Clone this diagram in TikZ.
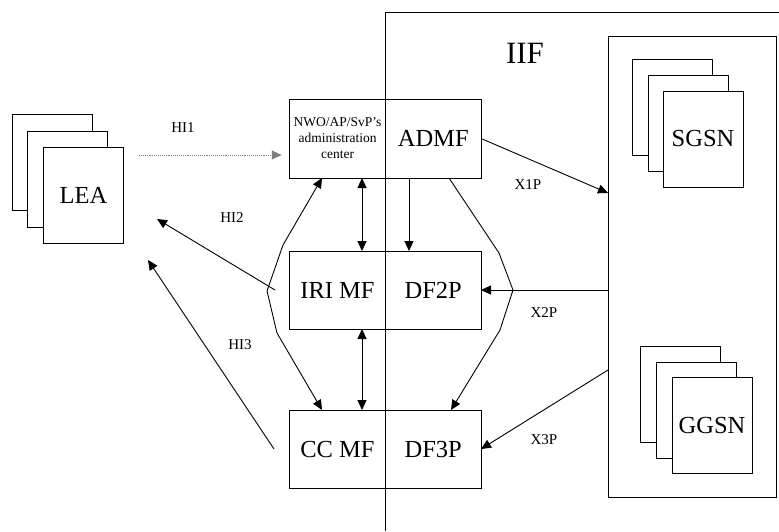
\documentclass[tikz,border=0pt]{standalone}
\usepackage{fontspec}
\setmainfont{Liberation Serif}
\usetikzlibrary{arrows.meta}
\begin{document}
\begin{tikzpicture}[x=1pt,y=-1pt,line width=0.9pt,
  half/.style={draw, inner sep=0pt, outer sep=0pt, minimum width=95.5pt, minimum height=78pt, font=\fontsize{24.5}{26}\selectfont},
  card/.style={draw, fill=white, inner sep=0pt, outer sep=0pt, minimum width=80pt, minimum height=96pt, font=\fontsize{24.5}{26}\selectfont},
  lbl/.style={font=\fontsize{15}{17}\selectfont},
  arr/.style={-{Triangle[length=10pt,width=9pt]}},
  darr/.style={{Triangle[length=10pt,width=9pt]}-{Triangle[length=10pt,width=9pt]}}]
\useasboundingbox (0,0) rectangle (779,531);
% IIF
\draw (385,531) -- (385,12) -- (779,12);
\node[font=\fontsize{31}{33}\selectfont] (iif) at (525,53) {IIF};
% LEA stack
\node[card] (lea3) at (52,162.5) {};
\node[card] (lea2) at (67.5,179) {};
\node[card] (lea) at (83.5,195) {LEA};
% network nodes box
\node[draw, inner sep=0pt, outer sep=0pt, minimum width=168pt, minimum height=461pt] (nodes) at (692,266.5) {};
\node[card] (sgsn3) at (672,107) {};
\node[card] (sgsn2) at (688,123) {};
\node[card] (sgsn) at (703,139) {SGSN};
\node[card] (ggsn3) at (680,394) {};
\node[card] (ggsn2) at (696,410) {};
\node[card] (ggsn) at (712,425.5) {GGSN};
% function boxes
\node[half, minimum height=79pt, align=center, font=\fontsize{13.5}{16}\selectfont] (nwo) at (337.5,138.5) {NWO/AP/SvP’s\\administration\\center};
\node[half, minimum height=79pt] (admf) at (433.25,138.5) {ADMF};
\node[half] (iri) at (337.5,290) {IRI MF};
\node[half] (df2p) at (433.25,290) {DF2P};
\node[half] (ccmf) at (337.5,449) {CC MF};
\node[half] (df3p) at (433.25,449) {DF3P};
% HI interfaces
\coordinate (hi1s) at (139,155);
\draw[arr, densely dotted, gray, shorten >=8pt] (hi1s) -- (hi1s -| nwo.west);
\node[lbl] (hi1) at (183,128) {HI1};
\coordinate (hi2s) at (275,290);
\coordinate (hi2e) at (157,219);
\draw[arr] (hi2s) -- (hi2e);
\node[lbl] (hi2) at (232,218) {HI2};
\coordinate (hi3s) at (274,449);
\coordinate (hi3e) at (148,260);
\draw[arr] (hi3s) -- (hi3e);
\node[lbl] (hi3) at (240,345) {HI3};
% left bracket
\coordinate (lb1) at (283,245);
\coordinate (lb2) at (267,291);
\coordinate (lb3) at (277,333);
\draw[darr] (322,0 |- nwo.south) -- (lb1) -- (lb2) -- (lb3) -- (322,0 |- ccmf.north);
% right bracket
\coordinate (rb1) at (499,253);
\coordinate (rb2) at (513,290);
\coordinate (rb3) at (500,330);
\draw[arr] (449,0 |- admf.south) -- (rb1) -- (rb2) -- (rb3) -- (451,0 |- df3p.north);
% vertical links
\draw[darr] (362,0 |- nwo.south) -- (362,0 |- iri.north);
\draw[arr] (409,0 |- admf.south) -- (409,0 |- df2p.north);
\draw[darr] (362,0 |- iri.south) -- (362,0 |- ccmf.north);
% X interfaces
\draw[arr] (admf.east) -- (nodes.west |- 0,193);
\node[lbl] (x1p) at (528,185) {X1P};
\draw[arr] (nodes.west |- df2p.east) -- (df2p.east);
\node[lbl] (x2p) at (544,313) {X2P};
\draw[arr] (nodes.west |- 0,370) -- (df3p.east);
\node[lbl] (x3p) at (544,440) {X3P};
\end{tikzpicture}
\end{document}
